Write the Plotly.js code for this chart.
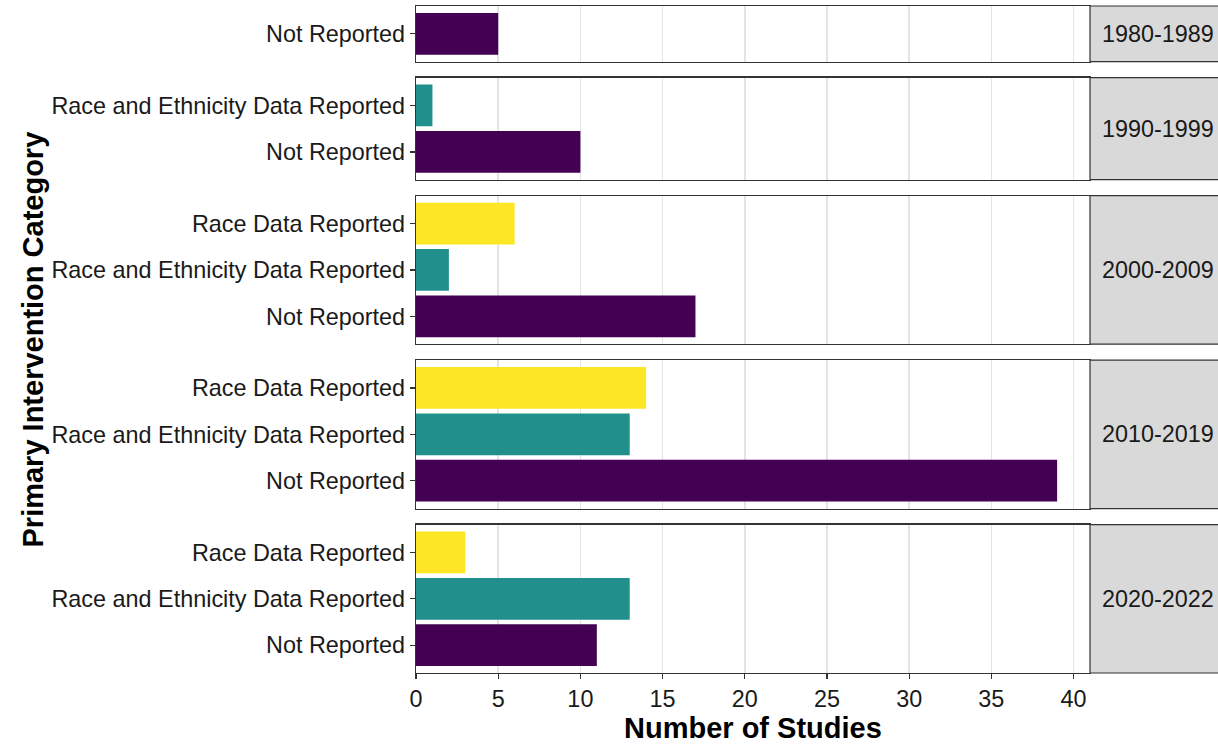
<!DOCTYPE html>
<html>
<head>
<meta charset="utf-8">
<script src="https://cdn.plot.ly/plotly-3.0.1.min.js"></script>
<style>
  html, body { margin: 0; padding: 0; background: #ffffff; }
  #chart { width: 1218px; height: 744px; }
</style>
</head>
<body>
<div id="chart"></div>
<script>
// ---- Data ----
const decades = ['1980-1989', '1990-1999', '2000-2009', '2010-2019', '2020-2022'];
const categories = ['Not Reported', 'Race and Ethnicity Data Reported', 'Race Data Reported'];
const notReported = [5, 10, 17, 39, 11];
const raceEthnicityReported = [null, 1, 2, 13, 13];
const raceReported = [null, null, 6, 14, 3];
const xTicks = [0, 5, 10, 15, 20, 25, 30, 35, 40];
const xTitle = 'Number of Studies';
const yTitle = 'Primary Intervention Category';

// ---- Styling ----
const colors = {
  'Not Reported': '#440154',
  'Race and Ethnicity Data Reported': '#21908C',
  'Race Data Reported': '#FDE725'
};
const FONT = '"Liberation Sans", Arial, sans-serif';
const TICKSIZE = 23.4;
const W = 1218, H = 744;
const mL = 416, mR = 128, mT = 6, mB = 71;
const plotW = W - mL - mR, plotH = H - mT - mB;
const gapPx = 16;

const seriesByCat = {
  'Not Reported': notReported,
  'Race and Ethnicity Data Reported': raceEthnicityReported,
  'Race Data Reported': raceReported
};

// categories present in each panel
const panelCats = decades.map((d, i) => categories.filter(c => seriesByCat[c][i] !== null));
const units = panelCats.map(c => c.length + 0.2);
const totalUnits = units.reduce((a, b) => a + b, 0);
const pxPerUnit = (plotH - gapPx * (decades.length - 1)) / totalUnits;

const traces = [];
const layout = {
  width: W, height: H,
  margin: { l: mL, r: mR, t: mT, b: mB, pad: 0 },
  paper_bgcolor: '#ffffff',
  plot_bgcolor: '#ffffff',
  showlegend: false,
  font: { family: FONT, size: TICKSIZE, color: '#1a1a1a' },
  bargap: 0.1,
  shapes: [],
  annotations: []
};

let topPx = 0;
decades.forEach((dec, i) => {
  const n = i + 1;
  const sfx = n === 1 ? '' : String(n);
  const hPx = units[i] * pxPerUnit;
  const d1 = 1 - topPx / plotH;
  const d0 = 1 - (topPx + hPx) / plotH;
  topPx += hPx + gapPx;
  const cats = panelCats[i];
  const xs = cats.map(c => seriesByCat[c][i]);
  traces.push({
    type: 'bar',
    orientation: 'h',
    x: xs,
    y: cats,
    width: 0.9,
    marker: { color: cats.map(c => colors[c]), line: { width: 0 } },
    xaxis: 'x' + sfx,
    yaxis: 'y' + sfx,
    hoverinfo: 'skip'
  });
  const isBottom = i === decades.length - 1;
  layout['xaxis' + sfx] = {
    anchor: 'y' + sfx,
    domain: [0, 1],
    range: [0, 41],
    tickmode: 'array',
    tickvals: xTicks,
    ticktext: xTicks.map(String),
    showticklabels: isBottom,
    ticks: isBottom ? 'outside' : '',
    ticklen: 5,
    tickwidth: 1.3,
    tickcolor: '#333333',
    tickfont: { family: FONT, size: TICKSIZE, color: '#1a1a1a' },
    showgrid: true,
    gridcolor: '#e4e4e4',
    gridwidth: 1.6,
    zeroline: false,
    showline: true,
    mirror: true,
    linecolor: '#333333',
    linewidth: 1.2,
    fixedrange: true
  };
  if (n > 1) layout['xaxis' + sfx].matches = 'x';
  layout['yaxis' + sfx] = {
    anchor: 'x' + sfx,
    domain: [d0, d1],
    type: 'category',
    categoryorder: 'array',
    categoryarray: cats,
    range: [-0.6, cats.length - 0.4],
    ticks: 'outside',
    ticklen: 5,
    tickwidth: 1.3,
    tickcolor: '#333333',
    tickfont: { family: FONT, size: TICKSIZE, color: '#1a1a1a' },
    showgrid: false,
    zeroline: false,
    showline: true,
    mirror: true,
    linecolor: '#333333',
    linewidth: 1.2,
    fixedrange: true
  };
  // facet strip on the right
  layout.shapes.push({
    type: 'rect', layer: 'above',
    xref: 'paper', yref: 'y' + sfx + ' domain',
    x0: 1, x1: 1 + (mR + 10) / plotW, y0: 0, y1: 1,
    fillcolor: '#d9d9d9',
    line: { color: '#333333', width: 1.2 }
  });
  layout.annotations.push({
    xref: 'paper', yref: 'y' + sfx + ' domain',
    x: 1 + 68 / plotW, y: 0.5,
    xanchor: 'center', yanchor: 'middle',
    text: dec, showarrow: false,
    font: { family: FONT, size: TICKSIZE, color: '#1a1a1a' }
  });
});

// axis titles
layout.annotations.push({
  xref: 'paper', yref: 'paper',
  x: (753 - mL) / plotW, y: -(728 - (H - mB)) / plotH,
  xanchor: 'center', yanchor: 'middle',
  text: '<b>' + xTitle + '</b>', showarrow: false,
  font: { family: FONT, size: 29, color: '#000000' }
});
layout.annotations.push({
  xref: 'paper', yref: 'paper',
  x: (32 - mL) / plotW, y: 0.5,
  xanchor: 'center', yanchor: 'middle',
  textangle: -90,
  text: '<b>' + yTitle + '</b>', showarrow: false,
  font: { family: FONT, size: 29, color: '#000000' }
});

Plotly.newPlot('chart', traces, layout, { staticPlot: true, displayModeBar: false });
</script>
</body>
</html>
